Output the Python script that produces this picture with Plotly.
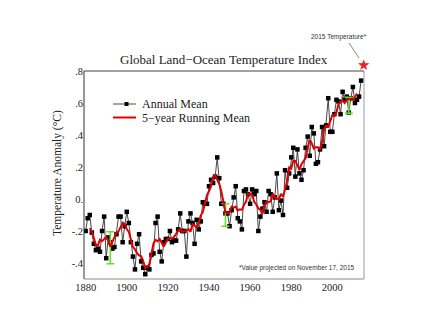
import plotly.graph_objects as go

# Global land-ocean temperature anomaly (°C), annual means 1880-2014
years = list(range(1880, 2015))
annual_mean = [
    -0.20, -0.12, -0.10, -0.21, -0.28, -0.32, -0.31, -0.33, -0.20, -0.11,
    -0.37, -0.24, -0.27, -0.31, -0.30, -0.22, -0.11, -0.11, -0.27, -0.17,
    -0.08, -0.15, -0.27, -0.36, -0.44, -0.28, -0.22, -0.39, -0.43, -0.47,
    -0.43, -0.44, -0.35, -0.34, -0.15, -0.11, -0.33, -0.39, -0.27, -0.25,
    -0.25, -0.20, -0.27, -0.26, -0.26, -0.19, -0.09, -0.20, -0.20, -0.36,
    -0.14, -0.09, -0.15, -0.28, -0.13, -0.19, -0.14, -0.02, -0.03, -0.03,
    0.08, 0.12, 0.10, 0.14, 0.26, 0.13, -0.03, -0.03, -0.09, -0.09,
    -0.17, -0.07, 0.01, 0.08, -0.12, -0.14, -0.19, 0.05, 0.06, 0.03,
    -0.03, 0.06, 0.03, 0.05, -0.20, -0.11, -0.06, -0.02, -0.08, 0.05,
    0.03, -0.08, 0.01, 0.16, -0.07, -0.01, -0.10, 0.18, 0.07, 0.16,
    0.26, 0.32, 0.14, 0.31, 0.16, 0.12, 0.18, 0.32, 0.39, 0.27,
    0.45, 0.41, 0.22, 0.23, 0.31, 0.45, 0.33, 0.46, 0.63, 0.42,
    0.42, 0.53, 0.62, 0.61, 0.53, 0.67, 0.62, 0.64, 0.54, 0.63,
    0.70, 0.60, 0.62, 0.64, 0.74,
]

# 5-year running mean, centred, 1882-2012
running_years = list(range(1882, 2013))
running_mean = [
    -0.182, -0.206, -0.244, -0.290, -0.288, -0.254, -0.264, -0.250,
    -0.238, -0.260, -0.298, -0.268, -0.242, -0.210, -0.202, -0.176, -0.148, -0.156,
    -0.188, -0.206, -0.260, -0.300, -0.314, -0.338, -0.352, -0.358, -0.388, -0.432,
    -0.424, -0.406, -0.342, -0.278, -0.256, -0.264, -0.250, -0.270, -0.298, -0.272,
    -0.248, -0.246, -0.248, -0.236, -0.214, -0.200, -0.188, -0.208, -0.198, -0.198,
    -0.188, -0.204, -0.158, -0.168, -0.178, -0.152, -0.102, -0.082, -0.028, 0.024,
    0.048, 0.082, 0.140, 0.150, 0.120, 0.094, 0.048, -0.022, -0.082, -0.090,
    -0.082, -0.048, -0.054, -0.048, -0.072, -0.064, -0.068, -0.038, -0.016, 0.034,
    0.030, 0.028, -0.018, -0.034, -0.058, -0.068, -0.094, -0.044, -0.016, -0.020,
    -0.014, 0.034, 0.010, 0.002, -0.002, 0.032, 0.014, 0.060, 0.114, 0.198,
    0.190, 0.238, 0.238, 0.210, 0.182, 0.218, 0.234, 0.256, 0.322, 0.368,
    0.348, 0.316, 0.324, 0.324, 0.308, 0.356, 0.436, 0.458, 0.452, 0.492,
    0.524, 0.520, 0.542, 0.592, 0.610, 0.614, 0.600, 0.620, 0.626, 0.622,
    0.618, 0.638, 0.660,
]

# Uncertainty estimates
unc_years = [1892, 1948, 2008]
unc_center = [-0.305, -0.100, 0.585]
unc_halfwidth = [0.10, 0.07, 0.05]

# Projected 2015 value
proj_year = 2015
proj_value = 0.84

y_tickvals = [-0.4, -0.2, 0.0, 0.2, 0.4, 0.6, 0.8]
y_ticktext = ["-.4", "-.2", "0.", ".2", ".4", ".6", ".8"]
x_tickvals = [1880, 1900, 1920, 1940, 1960, 1980, 2000]

X_RANGE = [1879.2, 2015.4]
Y_RANGE = [-0.5, 0.8]

SERIF = "Liberation Serif, Times New Roman, serif"
SANS = "Liberation Sans, Arial, sans-serif"
RED = "#e00000"
GREEN = "#66dd33"

fig = go.Figure()

fig.add_trace(go.Scatter(
    x=years, y=annual_mean, mode="lines+markers", name="Annual Mean",
    line=dict(color="#333333", width=0.9),
    marker=dict(symbol="square", size=4.5, color="black"),
    showlegend=False,
))

fig.add_trace(go.Scatter(
    x=unc_years, y=unc_center, mode="markers",
    marker=dict(size=1, color="rgba(0,0,0,0)"),
    error_y=dict(type="data", array=unc_halfwidth, visible=True,
                 color=GREEN, thickness=1.6, width=4),
    hoverinfo="skip", showlegend=False,
))

fig.add_trace(go.Scatter(
    x=running_years, y=running_mean, mode="lines", name="5-year Running Mean",
    line=dict(color=RED, width=2),
    showlegend=False,
))

L, R, T, B = 84, 84, 71, 57
W, H = 448, 336
PW, PH = W - L - R, H - T - B


def px(x):
    return (x - L) / PW


def py(y):
    return (H - B - y) / PH


# the projected value sits above the axis range, so place it in paper units
proj_paper_y = (proj_value - Y_RANGE[0]) / (Y_RANGE[1] - Y_RANGE[0])

shapes = [
    # frame
    dict(type="line", xref="paper", yref="paper", x0=0, x1=0, y0=0, y1=1,
         line=dict(color="#333333", width=1)),
    dict(type="line", xref="paper", yref="paper", x0=0, x1=1, y0=1, y1=1,
         line=dict(color="#444444", width=1)),
    dict(type="line", xref="paper", yref="paper", x0=1, x1=1, y0=0, y1=1,
         line=dict(color="#999999", width=1)),
    dict(type="line", xref="paper", yref="paper", x0=0, x1=1, y0=0, y1=0,
         line=dict(color="#888888", width=1)),
    # legend samples
    dict(type="line", xref="paper", yref="paper", x0=px(113), x1=px(136),
         y0=py(104), y1=py(104), line=dict(color="#333333", width=0.9)),
    dict(type="rect", xref="paper", yref="paper", x0=px(124.5), x1=px(128.5),
         y0=py(106), y1=py(102), fillcolor="black", line=dict(width=0)),
    dict(type="line", xref="paper", yref="paper", x0=px(113), x1=px(136),
         y0=py(117.5), y1=py(117.5), line=dict(color=RED, width=2)),
    # pointer to the 2015 star
    dict(type="line", xref="paper", yref="paper", x0=px(349), x1=px(359),
         y0=py(43), y1=py(58), line=dict(color="#555555", width=0.7)),
]

annotations = [
    dict(text="Global Land\u2212Ocean Temperature Index", x=px(224), y=py(60),
         xref="paper", yref="paper", showarrow=False, xanchor="center",
         yanchor="middle", font=dict(family=SERIF, size=13, color="#222222")),
    dict(text="Temperature Anomaly (°C)", x=px(57), y=py(173), textangle=-90,
         xref="paper", yref="paper", showarrow=False, xanchor="center",
         yanchor="middle", font=dict(family=SERIF, size=11.5, color="#222222")),
    dict(text="Annual Mean", x=px(140), y=py(104), xref="paper", yref="paper",
         showarrow=False, xanchor="left", yanchor="middle",
         font=dict(family=SERIF, size=12, color="#222222")),
    dict(text="5\u2212year Running Mean", x=px(140), y=py(117.5), xref="paper",
         yref="paper", showarrow=False, xanchor="left", yanchor="middle",
         font=dict(family=SERIF, size=12, color="#222222")),
    dict(text="*Value projected on November 17, 2015", x=px(357), y=py(268),
         xref="paper", yref="paper", showarrow=False, xanchor="right",
         yanchor="middle", font=dict(family=SANS, size=6.5, color="#333333")),
    dict(text="2015 Temperature*", x=px(339), y=py(36.5), xref="paper",
         yref="paper", showarrow=False, xanchor="center", yanchor="middle",
         font=dict(family=SANS, size=6.5, color="#333333")),
    # projected 2015 value
    dict(text="\u2605", x=proj_year, y=proj_paper_y, xref="x", yref="paper",
         showarrow=False, xanchor="center", yanchor="middle",
         font=dict(family="DejaVu Sans", size=15, color="#ee2222")),
]

fig.update_layout(
    width=W, height=H,
    margin=dict(l=L, r=R, t=T, b=B, pad=0),
    paper_bgcolor="white", plot_bgcolor="white",
    showlegend=False,
    shapes=shapes, annotations=annotations,
    xaxis=dict(range=X_RANGE, tickvals=x_tickvals,
               showgrid=False, zeroline=False, showline=False, ticks="",
               tickfont=dict(family=SERIF, size=10.5, color="#222222")),
    yaxis=dict(range=Y_RANGE, tickvals=y_tickvals, ticktext=y_ticktext,
               showgrid=False, zeroline=False, showline=False, ticks="",
               tickfont=dict(family=SERIF, size=10.5, color="#222222")),
)

fig.write_html("out.html")
